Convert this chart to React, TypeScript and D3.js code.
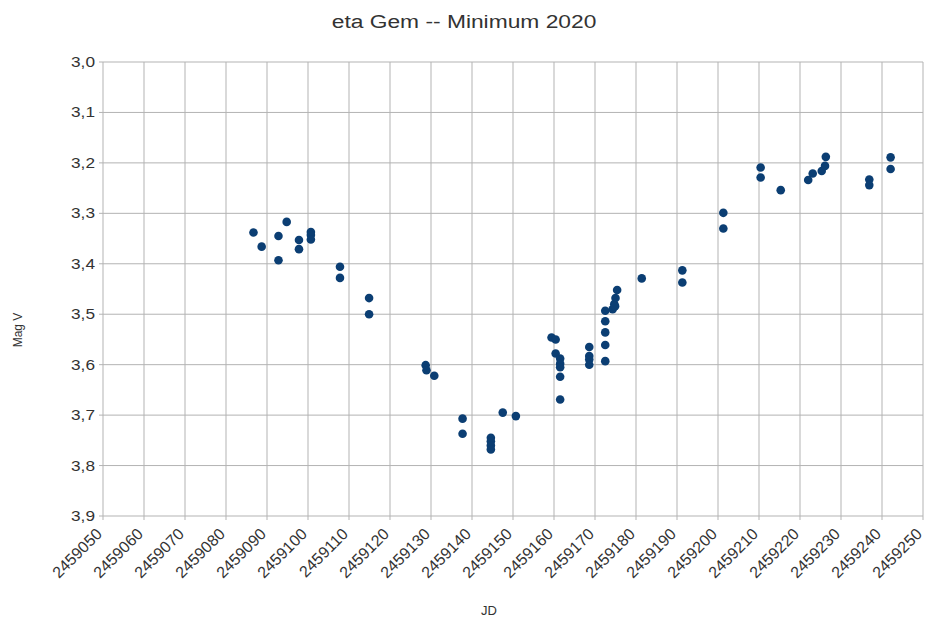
import React from "react";
import * as d3 from "d3";

const title = "eta Gem -- Minimum 2020";
const xLabel = "JD";
const yLabel = "Mag V";
const xTicks = [2459050, 2459060, 2459070, 2459080, 2459090, 2459100, 2459110, 2459120, 2459130, 2459140, 2459150, 2459160, 2459170, 2459180, 2459190, 2459200, 2459210, 2459220, 2459230, 2459240, 2459250];
const yTicks = [3.0, 3.1, 3.2, 3.3, 3.4, 3.5, 3.6, 3.7, 3.8, 3.9];

const jd = [
  2459086.7, 2459088.7, 2459094.8, 2459092.8, 2459092.8, 2459097.8, 2459097.8, 2459100.7, 2459100.7, 2459100.7,
  2459107.8, 2459107.8, 2459114.9, 2459114.9,
  2459128.7, 2459128.9, 2459130.8, 2459137.7, 2459137.7,
  2459144.6, 2459144.6, 2459144.6, 2459144.6, 2459147.5, 2459150.7,
  2459159.4, 2459160.4, 2459160.4, 2459161.5, 2459161.5, 2459161.5, 2459161.5, 2459161.5,
  2459168.6, 2459168.6, 2459168.6, 2459168.6,
  2459172.5, 2459172.5, 2459172.5, 2459172.5, 2459172.5,
  2459174.3, 2459174.7, 2459175.0, 2459175.4, 2459174.9,
  2459181.4, 2459191.3, 2459191.3, 2459201.3, 2459201.3,
  2459210.4, 2459210.4, 2459215.3, 2459222.0, 2459223.1, 2459225.3, 2459226.1, 2459226.3,
  2459236.9, 2459236.9, 2459242.1, 2459242.1,
];
const mag = [
  3.338, 3.366, 3.317, 3.345, 3.393, 3.353, 3.371, 3.337, 3.343, 3.352,
  3.406, 3.428, 3.468, 3.500,
  3.601, 3.611, 3.622, 3.707, 3.737,
  3.745, 3.752, 3.760, 3.768, 3.695, 3.702,
  3.546, 3.550, 3.578, 3.588, 3.598, 3.605, 3.624, 3.669,
  3.565, 3.583, 3.590, 3.600,
  3.493, 3.514, 3.536, 3.561, 3.593,
  3.490, 3.480, 3.468, 3.452, 3.484,
  3.429, 3.413, 3.437, 3.299, 3.330,
  3.209, 3.229, 3.254, 3.234, 3.221, 3.216, 3.206, 3.188,
  3.233, 3.244, 3.189, 3.212,
];

export default function App() {
  const W = 926, H = 619;
  const left = 103, right = 923, top = 62, bottom = 516;
  const x = d3.scaleLinear().domain([2459050, 2459250]).range([left, right]);
  const y = d3.scaleLinear().domain([3.0, 3.9]).range([top, bottom]);
  const font = "'Liberation Sans', Arial, sans-serif";
  const grid = "#b3b3b3";
  return (
    <svg width={W} height={H} style={{ position: "absolute", left: 0, top: 0, background: "#fff" }} fontFamily={font}>
      <rect x={0} y={0} width={W} height={H} fill="#fff" />
      <text transform="translate(464,28) scale(1.2,1)" textAnchor="middle" fontSize={19} fill="#333">{title}</text>
      {xTicks.map((t) => (
        <line key={"vx" + t} x1={x(t)} x2={x(t)} y1={top} y2={bottom + 4} stroke={grid} strokeWidth={1} />
      ))}
      {yTicks.map((t) => (
        <line key={"hy" + t} x1={left - 4} x2={right} y1={y(t)} y2={y(t)} stroke={grid} strokeWidth={1} />
      ))}
      {yTicks.map((t) => (
        <text key={"ly" + t} transform={`translate(${left - 8},${y(t) + 5}) scale(1.15,1)`} textAnchor="end" fontSize={15} fill="#333">
          {t.toFixed(1).replace(".", ",")}
        </text>
      ))}
      {xTicks.map((t) => (
        <text key={"lx" + t} transform={`translate(${x(t)},${bottom + 19}) rotate(-45)`} textAnchor="end" fontSize={16} fill="#333">
          {t}
        </text>
      ))}
      <text x={489} y={615} textAnchor="middle" fontSize={13} fill="#333">{xLabel}</text>
      <text transform={`translate(22,330) rotate(-90)`} textAnchor="middle" fontSize={12} fill="#333">{yLabel}</text>
      {jd.map((d, i) => (
        <circle key={"p" + i} cx={x(d)} cy={y(mag[i])} r={4.3} fill="#0b3e73" />
      ))}
    </svg>
  );
}
